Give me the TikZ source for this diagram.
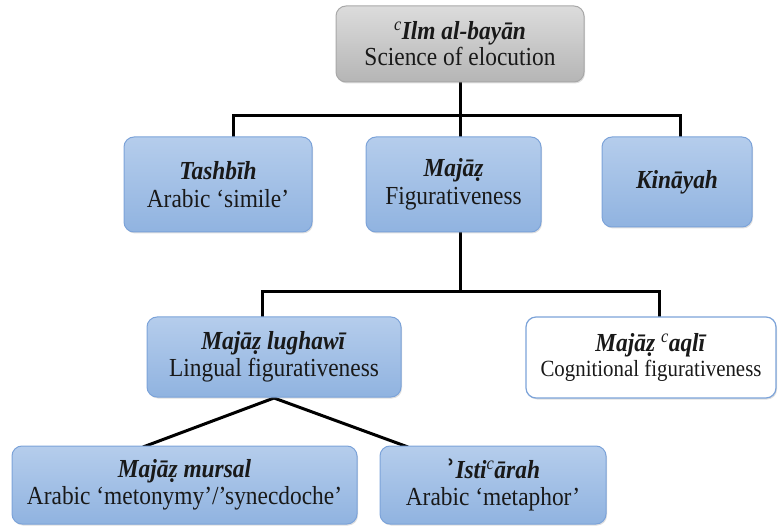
\documentclass[tikz,border=0pt]{standalone}
\usepackage{fontspec}
\setmainfont{Liberation Serif}[FakeStretch=0.9]
\newfontfamily\glyphfont{DejaVu Serif}
\usetikzlibrary{shadows}
\definecolor{bluetop}{HTML}{B5CDEC}
\definecolor{bluebot}{HTML}{90B3E0}
\definecolor{blueline}{HTML}{7CA3D9}
\definecolor{graytop}{HTML}{DCDCDC}
\definecolor{graybot}{HTML}{B5B5B5}
\definecolor{grayline}{HTML}{A8A8A8}
\newcommand{\ayn}{\textsuperscript{\normalfont\itshape c}}
\newcommand{\hamza}{{\glyphfont\upshape ʾ}}
\tikzset{
  x=1pt, y=-1pt,
  box/.style={rounded corners=10pt, align=center, inner sep=0pt,
    drop shadow={shadow xshift=1pt, shadow yshift=-1.5pt, opacity=0.25}},
  bluebox/.style={box, draw=blueline, line width=1pt,
    top color=bluetop, bottom color=bluebot},
  graybox/.style={box, draw=grayline, line width=1pt,
    top color=graytop, bottom color=graybot},
  whitebox/.style={box, draw=blueline, line width=1.2pt, fill=white},
  link/.style={line width=3pt, black},
  label/.style={align=center, text=black!90},
}
\newcommand{\boxat}[6]{% style, name, x1, y1, x2, y2
  \node[#1, minimum width=#5-#3, minimum height=#6-#4] (#2) at ({(#3+#5)/2},{(#4+#6)/2}) {};}
\begin{document}
\begin{tikzpicture}
\useasboundingbox (0,0) rectangle (779,529);

% connectors first, boxes over them
\coordinate (j1) at (460,116);
\coordinate (j2) at (460,292);
\draw[link] (460,82) -- (j1);
\draw[link] (233,137) |- (680,116) -- (680,137);
\draw[link] (460,116) -- (460,137);
\draw[link] (460,232) -- (j2);
\draw[link] (262,317) |- (659,292) -- (659,317);
\draw[link] (143,447) -- (274,398) -- (408,447);

\boxat{graybox}{root}{336}{6}{584}{82}
\boxat{bluebox}{tash}{124}{137}{312}{232}
\boxat{bluebox}{majaz}{366}{137}{541}{232}
\boxat{bluebox}{kin}{602}{137}{752}{227}
\boxat{bluebox}{lugh}{147}{317}{401}{397}
\boxat{whitebox}{aqli}{526}{317}{776}{398}
\boxat{bluebox}{murs}{12}{446}{357}{524}
\boxat{bluebox}{isti}{380}{446}{606}{524}

\node[label, font=\fontsize{26}{26}\selectfont] at (root) {\textbf{\textit{\ayn Ilm al-bayān}}\\Science of elocution};
\node[label, font=\fontsize{26}{28}\selectfont] at (tash) {\textbf{\textit{Tashbīh}}\\Arabic ‘simile’};
\node[label, font=\fontsize{26}{28}\selectfont] at (majaz) {\textbf{\textit{Majāẓ}}\\Figurativeness};
\node[label, font=\fontsize{26}{28}\selectfont] at (kin) {\textbf{\textit{Kināyah}}};
\node[label, font=\fontsize{26}{27}\selectfont] at (lugh) {\textbf{\textit{Majāẓ lughawī}}\\Lingual figurativeness};
\node[label, font=\fontsize{26}{27}\selectfont] at (aqli) {\textbf{\textit{Majāẓ \ayn aqlī}}\\[-2pt]{\fontsize{23.2}{24}\selectfont Cognitional figurativeness}};
\node[label, font=\fontsize{26}{27}\selectfont] at (murs) {\textbf{\textit{Majāẓ mursal}}\\Arabic ‘metonymy’/’synecdoche’};
\node[label, font=\fontsize{26}{27}\selectfont] at (isti) {\textbf{\textit{\hamza Isti\ayn ārah}}\\Arabic ‘metaphor’};
\end{tikzpicture}
\end{document}
